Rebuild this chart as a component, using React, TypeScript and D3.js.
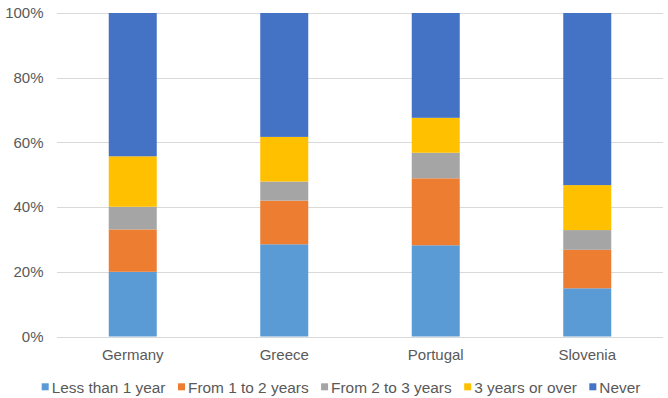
import React from "react";
import * as d3 from "d3";

const categories = ["Germany", "Greece", "Portugal", "Slovenia"];
const seriesNames = ["Less than 1 year", "From 1 to 2 years", "From 2 to 3 years", "3 years or over", "Never"];
const lessThan1 = [20.0, 28.5, 28.2, 14.9];
const from1to2 = [13.1, 13.5, 20.7, 11.9];
const from2to3 = [7.0, 5.9, 7.9, 6.1];
const over3 = [15.6, 13.8, 10.8, 13.9];
const never = [44.3, 38.3, 32.4, 53.2];
const yTicks = [0, 0.2, 0.4, 0.6, 0.8, 1.0];
const colors = ["#5B9BD5", "#ED7D31", "#A5A5A5", "#FFC000", "#4472C4"];

const W = 668;
const H = 398;
const FONT = "'Liberation Sans', Arial, sans-serif";

function measure(text: string, size: number): number {
  const c = document.createElement("canvas");
  const ctx = c.getContext("2d");
  if (!ctx) return text.length * size * 0.5;
  ctx.font = `${size}px 'Liberation Sans', Arial, sans-serif`;
  return ctx.measureText(text).width;
}

export default function App() {
  const rows = categories.map((c, i) => ({
    category: c,
    s0: lessThan1[i],
    s1: from1to2[i],
    s2: from2to3[i],
    s3: over3[i],
    s4: never[i],
  }));
  const keys = ["s0", "s1", "s2", "s3", "s4"];
  const stacked = d3.stack<any>().keys(keys).offset(d3.stackOffsetExpand)(rows);

  const x = d3.scaleBand<string>().domain(categories).range([57, 663]).padding(0);
  const y = d3.scaleLinear().domain([0, 1]).range([336.5, 13]);
  const barW = 48;

  // legend layout
  const legendSize = 15.4;
  let lx = 41.7;
  const legendItems = seriesNames.map((name, i) => {
    const item = { name, color: colors[i], x: lx };
    lx += 7 + 3 + measure(name, legendSize) + 12.5;
    return item;
  });

  return (
    <div style={{ position: "absolute", left: 0, top: 0 }}>
      <svg width={W} height={H} style={{ display: "block", background: "#fff" }}>
        <rect x={0} y={0} width={W} height={H} fill="#fff" />
        {yTicks.map((t) => (
          <g key={t}>
            <line
              x1={57}
              x2={663}
              y1={Math.round(y(t)) + 0.5}
              y2={Math.round(y(t)) + 0.5}
              stroke="#D9D9D9"
              strokeWidth={1}
            />
            <text
              x={43.5}
              y={y(t)}
              dy="0.35em"
              textAnchor="end"
              fontFamily={FONT}
              fontSize={15}
              fill="#595959"
            >
              {d3.format(".0%")(t)}
            </text>
          </g>
        ))}
        {stacked.map((layer, li) => (
          <g key={layer.key} fill={colors[li]}>
            {layer.map((d: any, i: number) => {
              const cx = (x(categories[i]) as number) + x.bandwidth() / 2;
              return (
                <rect
                  key={i}
                  x={cx - barW / 2}
                  width={barW}
                  y={y(d[1])}
                  height={y(d[0]) - y(d[1])}
                />
              );
            })}
          </g>
        ))}
        {categories.map((c) => (
          <text
            key={c}
            x={(x(c) as number) + x.bandwidth() / 2}
            y={359.5}
            textAnchor="middle"
            fontFamily={FONT}
            fontSize={15}
            fill="#595959"
          >
            {c}
          </text>
        ))}
        {legendItems.map((it) => (
          <g key={it.name}>
            <rect x={it.x} y={383.3} width={7} height={7} fill={it.color} />
            <text x={it.x + 10} y={392.5} fontFamily={FONT} fontSize={legendSize} fill="#595959">
              {it.name}
            </text>
          </g>
        ))}
      </svg>
    </div>
  );
}
